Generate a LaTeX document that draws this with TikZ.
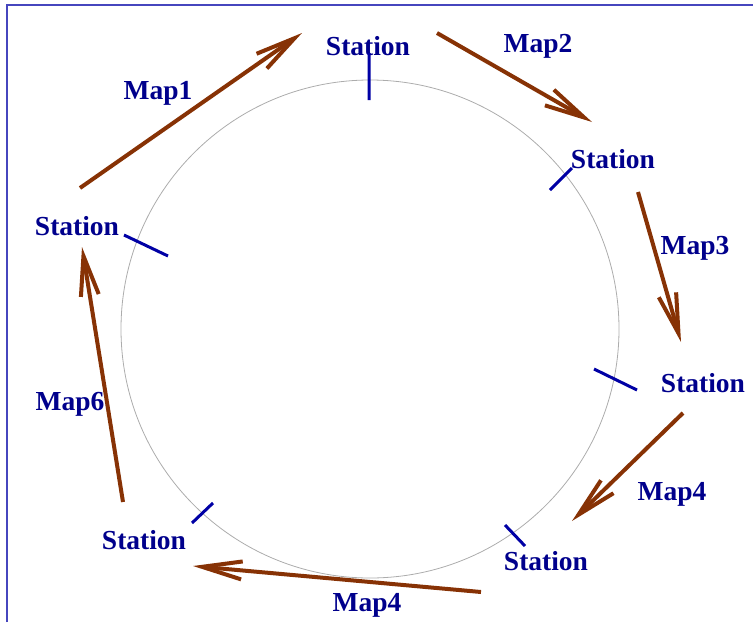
\documentclass[tikz,border=0pt]{standalone}
\usepackage{fontspec}
\setmainfont{Liberation Serif}
\usetikzlibrary{arrows.meta,positioning}
\definecolor{mapbrown}{RGB}{135,50,5}
\definecolor{stblue}{RGB}{0,0,140}
\definecolor{tickblue}{RGB}{0,0,165}
\definecolor{frameblue}{RGB}{70,70,190}
\tikzset{>={Straight Barb[length=40pt,width=18pt]}}
\tikzset{maparrow/.style={->, draw=mapbrown, line width=4pt}}
\tikzset{marker/.style={draw=tickblue, line width=3pt}}
\tikzset{lbl/.style={text=stblue, inner sep=0pt, font=\fontsize{27.5}{30}\selectfont\bfseries}}

\begin{document}
\begin{tikzpicture}[x=1pt,y=-1pt]
      \useasboundingbox (0,0) rectangle (753,622);
      \draw[frameblue, line width=1.6pt] (7,622) -- (7,5) -- (753,5);
      \coordinate (c) at (370,329);
      \draw[gray!65, line width=0.8pt] (c) circle[radius=249pt];
      % stations
      \node[lbl] (st1) at (368,46) {Station};
      \node[lbl] (st2) at (613,159) {Station};
      \node[lbl] (st3) at (703,383) {Station};
      \node[lbl] (st4) at (546,561) {Station};
      \node[lbl] (st5) at (144,540) {Station};
      \node[lbl] (st6) at (77,226) {Station};
      % map labels
      \node[lbl] (m1) at (158,93) {Map1};
      \node[lbl] (m2) at (538,46) {Map2};
      \node[lbl] (m3) at (695,248) {Map3};
      \node[lbl] (m4a) at (672,494) {Map4};
      \node[lbl] (m4b) at (367,605) {Map4};
      \node[lbl] (m6) at (70,404) {Map6};
      % ticks on the ring
      \coordinate (k1a) at (369,53);  \coordinate (k1b) at (369,100);
      \coordinate (k2a) at (550,190); \coordinate (k2b) at (572,168);
      \coordinate (k3a) at (594,369); \coordinate (k3b) at (637,390);
      \coordinate (k4a) at (505,525); \coordinate (k4b) at (525,546);
      \coordinate (k5a) at (192,523); \coordinate (k5b) at (213,503);
      \coordinate (k6a) at (124,235); \coordinate (k6b) at (168,256);
      \draw[marker] (k1a) -- (k1b) (k2a) -- (k2b) (k3a) -- (k3b)
                    (k4a) -- (k4b) (k5a) -- (k5b) (k6a) -- (k6b);
      % maps between stations
      \coordinate (a1) at (80,188);  \coordinate (b1) at (302,33);
      \coordinate (a2) at (437,33);  \coordinate (b2) at (592,122);
      \coordinate (a3) at (638,192); \coordinate (b3) at (681,342);
      \coordinate (a4) at (683,413); \coordinate (b4) at (572,521);
      \coordinate (a5) at (481,592); \coordinate (b5) at (193,566);
      \coordinate (a6) at (123,502); \coordinate (b6) at (82,247);
      \draw[maparrow] (a1) -- (b1);
      \draw[maparrow] (a2) -- (b2);
      \draw[maparrow] (a3) -- (b3);
      \draw[maparrow] (a4) -- (b4);
      \draw[maparrow] (a5) -- (b5);
      \draw[maparrow] (a6) -- (b6);
    \end{tikzpicture}
\end{document}
